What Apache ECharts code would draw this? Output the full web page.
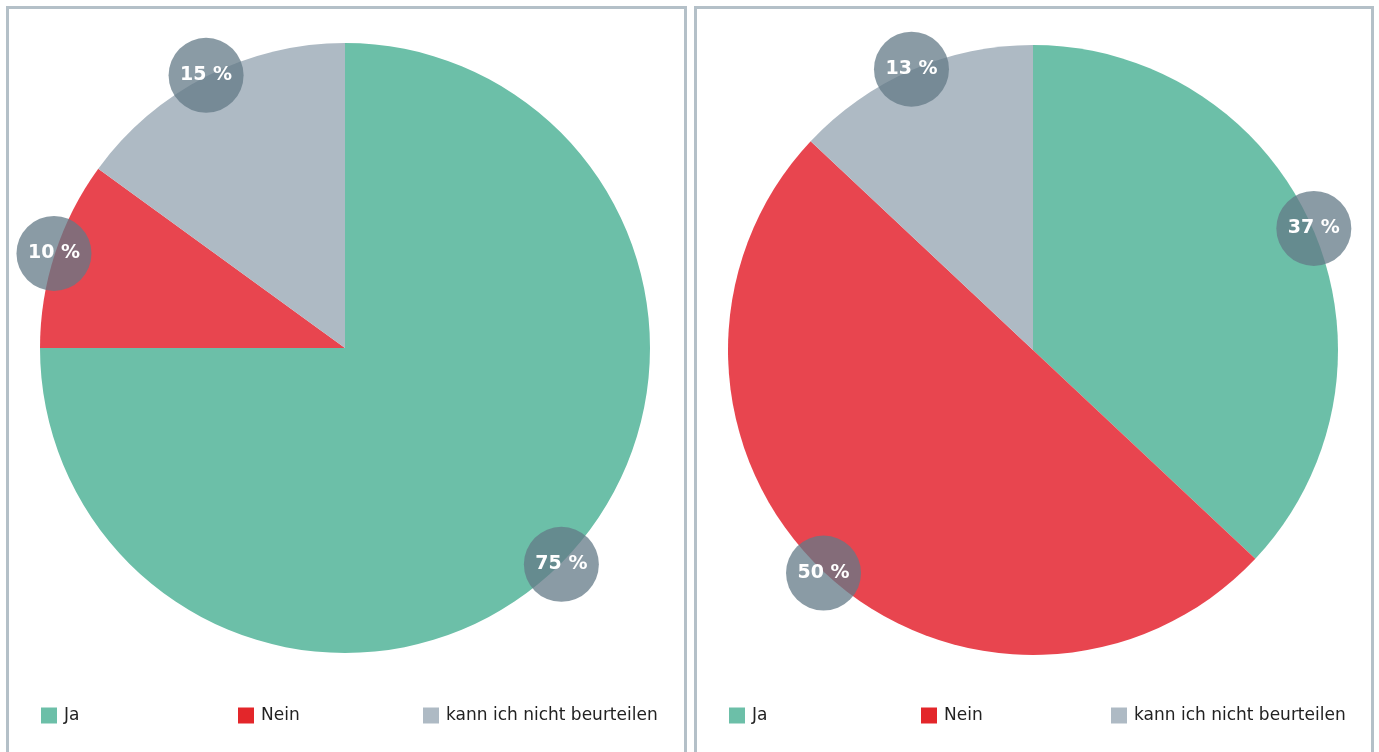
<!DOCTYPE html>
<html>
<head>
<meta charset="utf-8">
<script src="https://cdn.jsdelivr.net/npm/echarts@6/dist/echarts.min.js"></script>
<style>
  html, body { margin: 0; padding: 0; background: #fff; }
  #chart { width: 1379px; height: 752px; }
</style>
</head>
<body>
<div id="chart"></div>
<script>
// Antworten
var categories = ['Ja', 'Nein', 'kann ich nicht beurteilen'];
var valuesLeft = [75, 10, 15];
var valuesRight = [37, 50, 13];

var sliceColors = ['#6cbfa8', '#e8454f', '#aebac4'];
var legendColors = ['#6cbfa8', '#e3262a', '#aebac4'];

var ecc = echarts.init(document.getElementById('chart'));

function toData(values) {
    return categories.map(function (c, i) {
        return { name: c, value: values[i], itemStyle: { color: sliceColors[i] } };
    });
}

// Kreis-Beschriftung am Rand (unsichtbarer Ring mit gleichem Radius)
function labelRing(values, center) {
    return {
        type: 'pie',
        center: center,
        radius: [303, 303],
        startAngle: 90,
        clockwise: true,
        silent: true,
        legendHoverLink: false,
        itemStyle: { color: 'transparent', borderWidth: 0 },
        emphasis: { disabled: true },
        label: {
            show: true,
            position: 'inside',
            formatter: '{c} %',
            color: '#fff',
            fontFamily: 'DejaVu Sans',
            fontWeight: 'bold',
            fontSize: 19,
            backgroundColor: 'rgba(99,122,135,0.75)',
            width: 75,
            height: 75,
            lineHeight: 75,
            borderRadius: 38,
            align: 'center'
        },
        labelLine: { show: false },
        data: categories.map(function (c, i) {
            return { name: c + ' ', value: values[i] };
        })
    };
}

function mainPie(values, center) {
    return {
        type: 'pie',
        center: center,
        radius: [0, 305],
        startAngle: 90,
        clockwise: true,
        label: { show: false },
        labelLine: { show: false },
        emphasis: { scale: false },
        data: toData(values)
    };
}

var legendLeftPos = [36, 233, 418];
var legendRightPos = [724, 916, 1106];
var legends = [];
function addLegends(pos) {
    categories.forEach(function (c, i) {
        legends.push({
            left: pos[i],
            top: 702,
            icon: 'rect',
            itemWidth: 16,
            itemHeight: 16,
            itemGap: 0,
            data: [{ name: c, itemStyle: { color: legendColors[i] } }],
            textStyle: { color: '#222', fontSize: 17, fontFamily: 'DejaVu Sans', padding: [0, 0, 0, 2] },
            selectedMode: false
        });
    });
}
addLegends(legendLeftPos);
addLegends(legendRightPos);

var option = {
    animation: false,
    legend: legends,
    graphic: [
        { type: 'rect', shape: { x: 7.5, y: 7.5, width: 678, height: 780 },
          style: { fill: 'none', stroke: '#b4c0c8', lineWidth: 3 }, silent: true },
        { type: 'rect', shape: { x: 695.5, y: 7.5, width: 677, height: 780 },
          style: { fill: 'none', stroke: '#b4c0c8', lineWidth: 3 }, silent: true }
    ],
    series: [
        mainPie(valuesLeft, [345, 348]),
        mainPie(valuesRight, [1033, 350]),
        labelRing(valuesLeft, [345, 348]),
        labelRing(valuesRight, [1033, 350])
    ]
};

ecc.setOption(option);
</script>
</body>
</html>
